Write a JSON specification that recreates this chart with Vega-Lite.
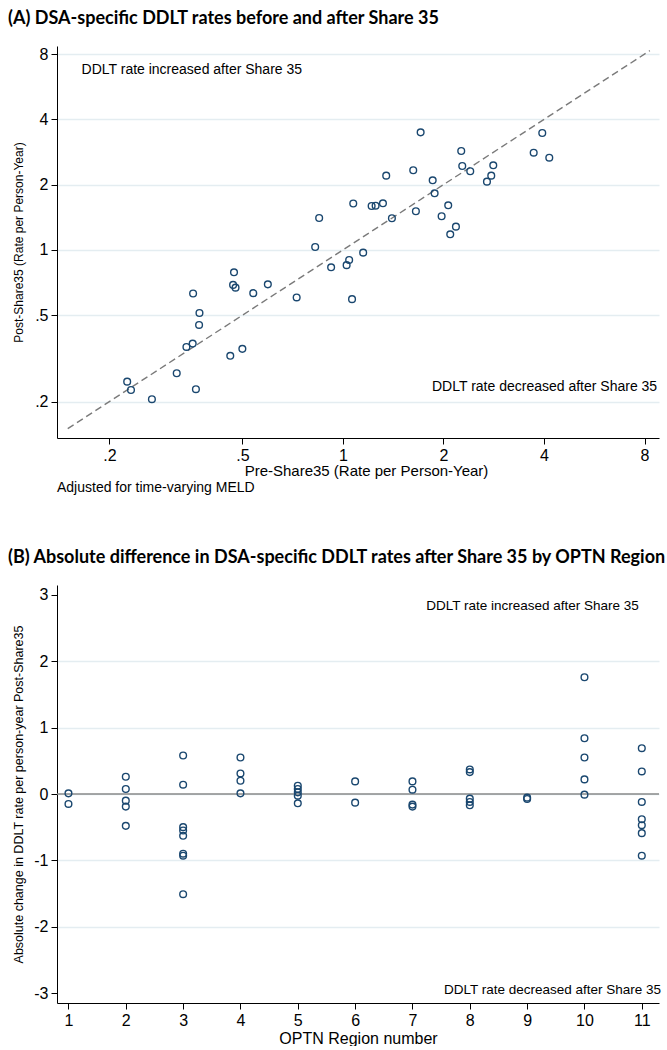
{
  "$schema": "https://vega.github.io/schema/vega-lite/v6.json",
  "background": "white",
  "padding": {"left": 8, "top": 10, "right": 0, "bottom": 0},
  "config": {
    "view": {"stroke": null},
    "font": "Liberation Sans",
    "axis": {
      "domainColor": "#000000", "tickColor": "#000000", "labelColor": "#000000", "titleColor": "#000000",
      "labelFont": "Liberation Sans", "titleFont": "Liberation Sans", "titleFontWeight": "normal",
      "gridColor": "#e4edf1", "gridWidth": 1.3, "tickSize": 6, "domainWidth": 1, "tickWidth": 1,
      "labelFlush": false, "labelOverlap": false
    },
    "title": {"font": "Lato", "fontWeight": "bold", "fontSize": 18, "anchor": "start", "frame": "group", "color": "#000000"}
  },
  "datasets": {
    "a": [
      {"pre": 0.226, "post": 0.247}, {"pre": 0.232, "post": 0.226}, {"pre": 0.268, "post": 0.205},
      {"pre": 0.318, "post": 0.270}, {"pre": 0.363, "post": 0.228}, {"pre": 0.340, "post": 0.357},
      {"pre": 0.355, "post": 0.370}, {"pre": 0.371, "post": 0.451}, {"pre": 0.372, "post": 0.512},
      {"pre": 0.356, "post": 0.630}, {"pre": 0.460, "post": 0.325}, {"pre": 0.500, "post": 0.350},
      {"pre": 0.472, "post": 0.789}, {"pre": 0.469, "post": 0.690}, {"pre": 0.477, "post": 0.670},
      {"pre": 0.539, "post": 0.632}, {"pre": 0.596, "post": 0.694}, {"pre": 0.727, "post": 0.604},
      {"pre": 0.922, "post": 0.832}, {"pre": 1.026, "post": 0.851}, {"pre": 1.044, "post": 0.899},
      {"pre": 1.065, "post": 0.593}, {"pre": 1.150, "post": 0.972}, {"pre": 0.826, "post": 1.032},
      {"pre": 0.849, "post": 1.404}, {"pre": 1.074, "post": 1.638}, {"pre": 1.219, "post": 1.595},
      {"pre": 1.253, "post": 1.600}, {"pre": 1.318, "post": 1.641}, {"pre": 1.402, "post": 1.400},
      {"pre": 1.348, "post": 2.201}, {"pre": 1.654, "post": 1.508}, {"pre": 1.624, "post": 2.331},
      {"pre": 1.709, "post": 3.487}, {"pre": 1.857, "post": 2.095}, {"pre": 1.882, "post": 1.825},
      {"pre": 1.975, "post": 1.430}, {"pre": 2.067, "post": 1.607}, {"pre": 2.096, "post": 1.181},
      {"pre": 2.180, "post": 1.281}, {"pre": 2.261, "post": 2.860}, {"pre": 2.277, "post": 2.439},
      {"pre": 2.406, "post": 2.306}, {"pre": 2.700, "post": 2.065}, {"pre": 2.781, "post": 2.201},
      {"pre": 2.820, "post": 2.457}, {"pre": 3.726, "post": 2.809}, {"pre": 3.953, "post": 3.462},
      {"pre": 4.149, "post": 2.664}
    ],
    "b": [
      {"region": 1, "change": 0.01}, {"region": 1, "change": -0.15},
      {"region": 2, "change": 0.26}, {"region": 2, "change": 0.075}, {"region": 2, "change": -0.10}, {"region": 2, "change": -0.19}, {"region": 2, "change": -0.48},
      {"region": 3, "change": 0.58}, {"region": 3, "change": 0.14}, {"region": 3, "change": -0.50}, {"region": 3, "change": -0.55}, {"region": 3, "change": -0.63}, {"region": 3, "change": -0.90}, {"region": 3, "change": -0.93}, {"region": 3, "change": -1.51},
      {"region": 4, "change": 0.55}, {"region": 4, "change": 0.31}, {"region": 4, "change": 0.20}, {"region": 4, "change": 0.01},
      {"region": 5, "change": 0.125}, {"region": 5, "change": 0.075}, {"region": 5, "change": 0.025}, {"region": 5, "change": -0.025}, {"region": 5, "change": -0.14},
      {"region": 6, "change": 0.19}, {"region": 6, "change": -0.13},
      {"region": 7, "change": 0.19}, {"region": 7, "change": 0.065}, {"region": 7, "change": -0.16}, {"region": 7, "change": -0.19},
      {"region": 8, "change": 0.37}, {"region": 8, "change": 0.33}, {"region": 8, "change": -0.07}, {"region": 8, "change": -0.12}, {"region": 8, "change": -0.17},
      {"region": 9, "change": -0.055}, {"region": 9, "change": -0.075},
      {"region": 10, "change": 1.76}, {"region": 10, "change": 0.84}, {"region": 10, "change": 0.55}, {"region": 10, "change": 0.22}, {"region": 10, "change": -0.01},
      {"region": 11, "change": 0.69}, {"region": 11, "change": 0.34}, {"region": 11, "change": -0.12}, {"region": 11, "change": -0.38}, {"region": 11, "change": -0.47}, {"region": 11, "change": -0.59}, {"region": 11, "change": -0.93}
    ]
  },
  "bounds": "flush",
  "spacing": 147,
  "vconcat": [
    {
      "title": {"text": "(A)  DSA-specific DDLT rates before and after Share 35", "dx": -49, "offset": 18},
      "width": 602,
      "height": 392,
      "layer": [
        {
          "data": {"values": [{"pre": 0.15, "post": 0.15}, {"pre": 8.3, "post": 8.3}]},
          "mark": {"type": "line", "color": "#7a7a7a", "strokeDash": [7, 4], "strokeWidth": 1.4},
          "encoding": {
            "x": {
              "field": "pre", "type": "quantitative",
              "scale": {"type": "log", "domain": [0.1393, 8.84], "nice": false},
              "axis": {
                "title": "Pre-Share35 (Rate per Person-Year)", "values": [0.2, 0.5, 1, 2, 4, 8],
                "labelExpr": "datum.value == 0.2 ? '.2' : datum.value == 0.5 ? '.5' : datum.label",
                "grid": false, "labelFontSize": 16, "titleFontSize": 15, "labelPadding": 3, "titlePadding": 0, "titleX": 309
              }
            },
            "y": {
              "field": "post", "type": "quantitative",
              "scale": {"type": "log", "domain": [0.1358, 8.72], "nice": false},
              "axis": {
                "title": "Post-Share35 (Rate per Person-Year)", "values": [0.2, 0.5, 1, 2, 4, 8],
                "labelExpr": "datum.value == 0.2 ? '.2' : datum.value == 0.5 ? '.5' : datum.label",
                "grid": true, "labelFontSize": 16, "titleFontSize": 12, "labelPadding": 3,
                "titleX": -39, "titleBaseline": "middle"
              }
            }
          }
        },
        {
          "data": {"name": "a"},
          "mark": {"type": "point", "shape": "circle", "filled": false, "color": "#1a476f", "size": 45, "strokeWidth": 1.4, "opacity": 1},
          "encoding": {
            "x": {"field": "pre", "type": "quantitative"},
            "y": {"field": "post", "type": "quantitative"}
          }
        },
        {
          "data": {"values": [
            {"pre": 0.165, "post": 6.76, "label": "DDLT rate increased after Share 35"},
            {"pre": 1.848, "post": 0.2334, "label": "DDLT rate decreased after Share 35"},
            {"pre": 0.1393, "post": 0.080, "label": "Adjusted for time-varying MELD"}
          ]},
          "mark": {"type": "text", "align": "left", "baseline": "middle", "fontSize": 14, "font": "Liberation Sans", "color": "#000000"},
          "encoding": {
            "x": {"field": "pre", "type": "quantitative"},
            "y": {"field": "post", "type": "quantitative"},
            "text": {"field": "label"}
          }
        }
      ]
    },
    {
      "title": {"text": "(B)  Absolute difference in DSA-specific DDLT rates after Share 35 by OPTN Region", "dx": -49, "offset": 18},
      "width": 602,
      "height": 418,
      "layer": [
        {
          "data": {"values": [{}]},
          "mark": {"type": "rule", "color": "#8a8a8a", "strokeWidth": 1.6},
          "encoding": {
            "y": {
              "datum": 0, "type": "quantitative",
              "scale": {"domain": [-3.15, 3.15], "nice": false, "zero": false},
              "axis": {
                "title": "Absolute change in DDLT rate per person-year Post-Share35", "values": [-3, -2, -1, 0, 1, 2, 3],
                "labelExpr": "'' + datum.value", "grid": true,
                "gridOpacity": {"condition": {"test": "abs(datum.value) > 2.5", "value": 0}, "value": 1},
                "labelFontSize": 16, "titleFontSize": 12.5, "labelPadding": 3,
                "titleX": -39, "titleBaseline": "middle"
              }
            }
          }
        },
        {
          "data": {"name": "b"},
          "mark": {"type": "point", "shape": "circle", "filled": false, "color": "#1a476f", "size": 45, "strokeWidth": 1.4, "opacity": 1},
          "encoding": {
            "x": {
              "field": "region", "type": "quantitative",
              "scale": {"domain": [0.8, 11.3], "nice": false, "zero": false},
              "axis": {
                "title": "OPTN Region number", "values": [1, 2, 3, 4, 5, 6, 7, 8, 9, 10, 11], "format": "d",
                "grid": false, "labelFontSize": 16, "titleFontSize": 16, "labelPadding": 3, "titlePadding": 2
              }
            },
            "y": {"field": "change", "type": "quantitative"}
          }
        },
        {
          "data": {"values": [
            {"region": 7.24, "change": 2.83, "label": "DDLT rate increased after Share 35"},
            {"region": 7.55, "change": -2.95, "label": "DDLT rate decreased after Share 35"}
          ]},
          "mark": {"type": "text", "align": "left", "baseline": "middle", "fontSize": 13.5, "font": "Liberation Sans", "color": "#000000"},
          "encoding": {
            "x": {"field": "region", "type": "quantitative"},
            "y": {"field": "change", "type": "quantitative"},
            "text": {"field": "label"}
          }
        }
      ]
    }
  ]
}
